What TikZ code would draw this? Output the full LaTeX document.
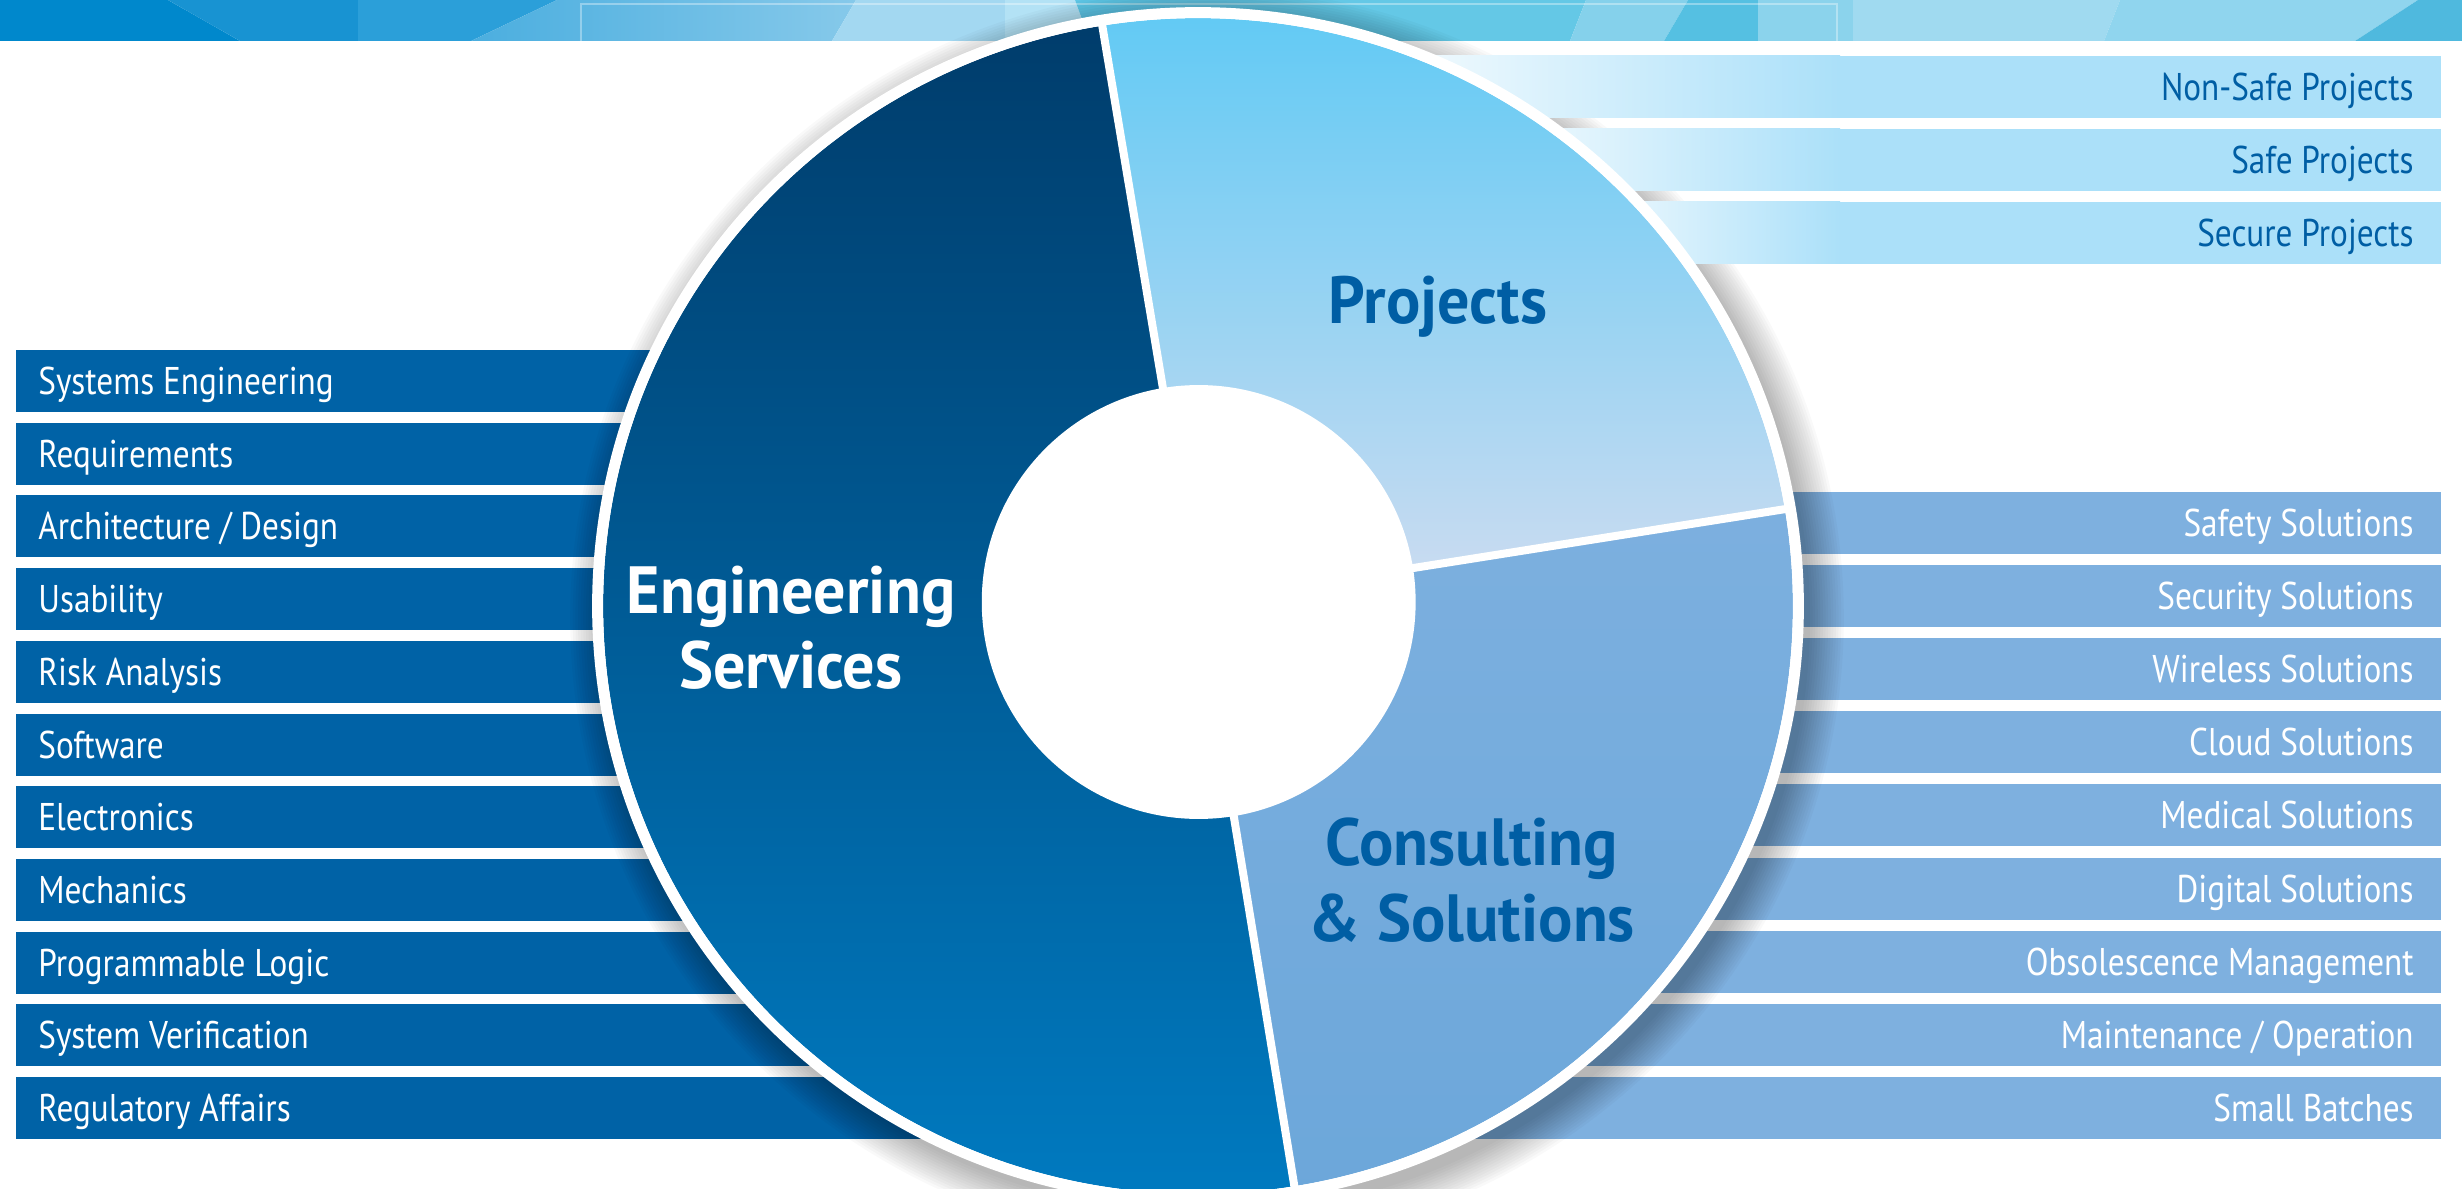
\documentclass[tikz,border=0pt]{standalone}
\usepackage{fontspec}
\setmainfont{PT Sans}[FakeStretch=0.86]
\newfontfamily\bigfont{PT Sans}[FakeStretch=0.96]
\usetikzlibrary{calc}
\definecolor{esbar}{HTML}{0062A6}
\definecolor{esTop}{HTML}{003C6B}
\definecolor{esBot}{HTML}{007AC0}
\definecolor{prTop}{HTML}{62CAF4}
\definecolor{prBot}{HTML}{C8DBF1}
\definecolor{csTop}{HTML}{7DB0DF}
\definecolor{csBot}{HTML}{6CA7DA}
\definecolor{pbar}{HTML}{ABE0F9}
\definecolor{sbar}{HTML}{7EB0DF}
\definecolor{dtext}{HTML}{005EA4}
\definecolor{bnA}{HTML}{0088CC}
\definecolor{bnB}{HTML}{1893D2}
\definecolor{bnC}{HTML}{2B9FD9}
\definecolor{bnDa}{HTML}{4BAEDF}
\definecolor{bnDb}{HTML}{86C9EA}
\definecolor{bnE}{HTML}{A3D8F1}
\definecolor{bnF}{HTML}{B3E2F5}
\definecolor{bnG}{HTML}{5EC6E6}
\definecolor{bnH}{HTML}{64C8E6}
\definecolor{bnI}{HTML}{85D1EB}
\definecolor{bnJ}{HTML}{55C0E2}
\definecolor{bnK}{HTML}{8BD3EC}
\definecolor{bnL}{HTML}{A0DAF0}
\definecolor{bnM}{HTML}{90D5EE}
\definecolor{bnN}{HTML}{4FB9DE}
\begin{document}
\begin{tikzpicture}[x=0.02cm,y=-0.02cm,
  ltext/.style={font=\fontsize{22}{26}\selectfont, text=white, inner sep=0pt, anchor=base west},
  rtext/.style={font=\fontsize{22}{26}\selectfont, inner sep=0pt, anchor=base east},
  bigtext/.style={font=\bigfont\fontsize{38}{44}\selectfont\bfseries, inner sep=0pt, anchor=base},
  divider/.style={white, line width=0.16cm}]
\useasboundingbox (0,0) rectangle (2462,1189);
\clip (0,0) rectangle (2462,1189);

% ---- banner
\fill[bnA] (0,0) -- (168,0) -- (240,41) -- (0,41) -- cycle;
\fill[bnB] (168,0) -- (358,0) -- (358,41) -- (240,41) -- cycle;
\fill[bnC] (358,0) -- (557,0) -- (471,41) -- (358,41) -- cycle;
\shade[left color=bnDa, right color=bnDb] (557,0) -- (856,0) -- (832,41) -- (471,41) -- cycle;
\fill[bnE] (856,0) -- (1005,0) -- (1005,41) -- (832,41) -- cycle;
\fill[bnF] (1005,0) -- (1075,0) -- (1090,41) -- (1005,41) -- cycle;
\fill[bnG] (1075,0) -- (1170,0) -- (1170,41) -- (1090,41) -- cycle;
\fill[bnH] (1170,0) -- (1586,0) -- (1570,41) -- (1170,41) -- cycle;
\fill[bnI] (1586,0) -- (1688,0) -- (1664,41) -- (1570,41) -- cycle;
\fill[bnJ] (1688,0) -- (1758,0) -- (1758,41) -- (1664,41) -- cycle;
\fill[bnK] (1758,0) -- (1853,0) -- (1853,41) -- (1758,41) -- cycle;
\fill[bnL] (1853,0) -- (2120,0) -- (2104,41) -- (1853,41) -- cycle;
\fill[bnM] (2120,0) -- (2418,0) -- (2355,41) -- (2104,41) -- cycle;
\fill[bnN] (2418,0) -- (2462,0) -- (2462,41) -- (2355,41) -- cycle;
\draw[white, opacity=0.35, line width=0.03cm] (581,41) -- (581,4) -- (1837,4) -- (1837,41);

% ---- left bars
\foreach \t [count=\i from 0, evaluate=\i as \ty using 350+72.7*\i] in
  {Systems Engineering, Requirements, {Architecture / Design}, Usability, Risk Analysis,
   Software, Electronics, Mechanics, Programmable Logic, System Verification, Regulatory Affairs}{
  \fill[esbar] (16,\ty) rectangle (1000,\ty+62);
  \node[ltext] (l\i) at (38,\ty+44.5) {\t};
}

% ---- lower right bars
\foreach \i [evaluate=\i as \ty using 492+73.1*\i] in {0,...,8}{
  \fill[sbar] (1400,\ty) rectangle (2441,\ty+62);
}

% ---- coordinates of the ring
\coordinate (C) at (1198.7,602);
\coordinate (O) at (1198,606);

% ---- drop shadow
\foreach \k in {0,...,13}{
  \fill[black, opacity=0.024] ($(O)+(9,12)$) ellipse [x radius={(603+2.6*\k)*0.02cm}, y radius={(596+2.6*\k)*0.02cm}];
}

% ---- upper right bars
\foreach \t/\sx [count=\i from 0, evaluate=\i as \ty using 56+73*\i] in
  {Non-Safe Projects/1400, Safe Projects/1500, Secure Projects/1580}{
  \shade[left color=white!85!pbar, right color=pbar] (\sx,\ty) rectangle (1840,\ty+62);
  \fill[pbar] (1839,\ty) rectangle (2441,\ty+62);
  \node[rtext, text=dtext] (u\i) at (2414,\ty+44.5) {\t};
}

% ---- lower right labels
\foreach \t [count=\i from 0, evaluate=\i as \ty using 492+73.1*\i] in
  {Safety Solutions, Security Solutions, Wireless Solutions, Cloud Solutions, Medical Solutions,
   Digital Solutions, Obsolescence Management, {Maintenance / Operation}, Small Batches}{
  \node[rtext, text=white] (s\i) at (2414,\ty+44.5) {\t};
}

% ---- white base of the ring
\fill[white] (O) ellipse [x radius=12.12cm, y radius=11.98cm];

% ---- sectors
\begin{scope}
  \clip (O) ellipse [x radius=11.9cm, y radius=11.76cm];
  \clip (C) -- ($(C)+({900*cos(99.5)},{-900*sin(99.5)})$) -- ($(C)+({900*cos(140)},{-900*sin(140)})$)
        -- ($(C)+({900*cos(180)},{-900*sin(180)})$) -- ($(C)+({900*cos(220)},{-900*sin(220)})$)
        -- ($(C)+({900*cos(260)},{-900*sin(260)})$) -- ($(C)+({900*cos(279.3)},{-900*sin(279.3)})$) -- cycle;
  \shade[top color=esTop, bottom color=esBot] (590,15) rectangle (1810,1200);
\end{scope}
\begin{scope}
  \clip (O) ellipse [x radius=11.9cm, y radius=11.76cm];
  \clip (C) -- ($(C)+({900*cos(99.5)},{-900*sin(99.5)})$) -- ($(C)+({900*cos(55)},{-900*sin(55)})$)
        -- ($(C)+({900*cos(9)},{-900*sin(9)})$) -- cycle;
  \shade[top color=prTop, bottom color=prBot] (1000,15) rectangle (1810,570);
\end{scope}
\begin{scope}
  \clip (O) ellipse [x radius=11.9cm, y radius=11.76cm];
  \clip (C) -- ($(C)+({900*cos(9)},{-900*sin(9)})$) -- ($(C)+({900*cos(-36)},{-900*sin(-36)})$)
        -- ($(C)+({900*cos(-80.7)},{-900*sin(-80.7)})$) -- cycle;
  \shade[top color=csTop, bottom color=csBot] (1190,480) rectangle (1810,1200);
\end{scope}

% ---- dividers
\begin{scope}
  \clip (O) ellipse [x radius=11.95cm, y radius=11.81cm];
  \draw[divider] (C) -- ($(C)+({700*cos(99.5)},{-700*sin(99.5)})$);
  \draw[divider] (C) -- ($(C)+({700*cos(9)},{-700*sin(9)})$);
  \draw[divider] (C) -- ($(C)+({700*cos(-80.7)},{-700*sin(-80.7)})$);
\end{scope}

% ---- hole and ring
\fill[white] (C) circle [radius=4.34cm];
\draw[white, line width=0.16cm] (O) ellipse [x radius=11.98cm, y radius=11.84cm];

% ---- sector labels
\node[bigtext, text=white] (es1) at (791,613) {Engineering};
\node[bigtext, text=white] (es2) at (791,688) {Services};
\node[bigtext, text=dtext] (pr) at (1438,324) {Projects};
\node[bigtext, text=dtext] (cs1) at (1472,865) {Consulting};
\node[bigtext, text=dtext] (cs2) at (1472,941) {\& Solutions};
\end{tikzpicture}
\end{document}
